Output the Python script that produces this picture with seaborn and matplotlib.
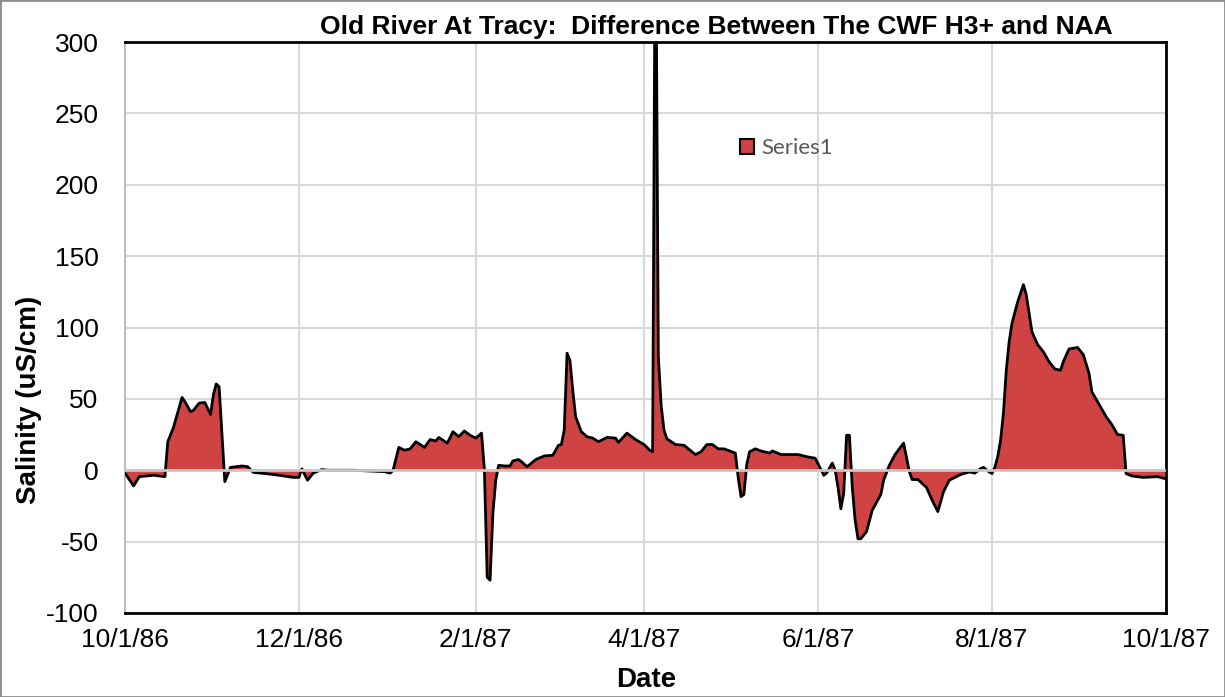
import numpy as np
import pandas as pd
import seaborn as sns
import matplotlib
matplotlib.use("Agg")
import matplotlib.pyplot as plt
from matplotlib.patches import Patch, Rectangle

# Days after 10/1/86 and the salinity difference (uS/cm)
day_offset = [0, 3, 5, 10, 14, 15, 17, 20, 21, 23, 24, 26, 28, 30, 31, 32, 33,
              35, 36, 37, 41, 43, 45, 50, 54, 59, 61, 62, 64, 66, 69, 71, 80,
              91, 93, 94, 96, 98, 100, 102, 105, 107, 109, 110, 113, 115, 117,
              119, 121, 123, 125, 126, 127, 128, 129, 130, 131, 133, 135, 136,
              138, 139, 141, 144, 147, 150, 152, 153, 154, 155, 156, 157, 158,
              160, 162, 164, 166, 169, 172, 173, 176, 179, 182, 184, 185, 186,
              187, 188, 189, 190, 193, 196, 200, 202, 204, 206, 208, 210, 212,
              214, 215, 216, 217, 218, 219, 221, 223, 226, 227, 230, 233, 236,
              239, 242, 243, 245, 246, 248, 249, 250, 251, 252, 253, 254, 255,
              256, 257, 258, 260, 262, 265, 266, 268, 270, 273, 275, 276, 278,
              281, 283, 285, 287, 289, 293, 296, 298, 300, 301, 303, 304, 305,
              306, 307, 308, 309, 310, 311, 313, 315, 316, 318, 320, 322, 324,
              326, 328, 329, 331, 334, 336, 338, 339, 342, 344, 346, 348, 350,
              351, 353, 357, 362, 365]
salinity_diff = [-2, -11, -4.5, -3.5, -4.5, 20, 30, 51, 48, 41, 42, 47, 47.5,
                 39, 53, 60.5, 58.5, -8, -3, 2, 3, 2.5, -1.5, -2.5, -3.5, -5,
                 -5, 1, -7, -2, 0.5, 0, 0, -1, -2, 0, 16, 14, 15, 20, 16, 21.5,
                 20.5, 23, 19, 27, 23.5, 27.5, 24.5, 22.5, 26, 1, -75, -77,
                 -30, -7, 3.5, 3, 3, 6.5, 7.5, 6, 2.5, 7.5, 10, 10.5, 17.5, 18,
                 28, 82, 77, 56, 37.5, 27, 23.5, 22.5, 20, 23, 22.5, 19.5, 26,
                 21.5, 18, 14, 13, 420, 80, 45, 28, 22, 18, 17.5, 11, 13, 18,
                 18, 15, 15, 13.5, 12, -5, -18.5, -17, 4, 13, 15, 13.5, 12,
                 13.5, 11, 11, 11, 9.5, 8.4, 4.5, -3.5, -2, 5, 0, -12, -27, -16,
                 24.5, 24.5, -12, -35, -48, -48, -43, -28, -17, -7, 3.5, 11, 19,
                 -1, -6.5, -6.5, -12, -21, -29, -15, -7, -3, -1.2, -2, 1.2, 2,
                 -1.2, -2.3, 2, 9.5, 21, 40, 70, 90, 103, 118, 130, 123, 97, 88,
                 83, 76, 71, 70, 76, 85, 86, 81, 68, 55, 44.5, 37.5, 32, 25,
                 24.5, -2.3, -4, -5, -4.5, -6]

tick_dates = ["1986-10-01", "1986-12-01", "1987-02-01", "1987-04-01",
              "1987-06-01", "1987-08-01", "1987-10-01"]
tick_labels = ["10/1/86", "12/1/86", "2/1/87", "4/1/87", "6/1/87", "8/1/87",
               "10/1/87"]
y_ticks = [-100, -50, 0, 50, 100, 150, 200, 250, 300]

df = pd.DataFrame({
    "date": pd.Timestamp("1986-10-01") + pd.to_timedelta(day_offset, unit="D"),
    "salinity": salinity_diff,
})

sns.set_style("white")
plt.rcParams["font.family"] = ["Liberation Sans", "DejaVu Sans"]
plt.rcParams["axes.unicode_minus"] = False
plt.rcParams["text.color"] = "black"
plt.rcParams["axes.labelcolor"] = "black"

fig = plt.figure(figsize=(12.25, 6.97), dpi=100)
ax = fig.add_axes([125 / 1225, 1 - 613 / 697, 1041 / 1225, 571 / 697])

fill_color = "#D04343"
ax.fill_between(df["date"], 0, df["salinity"], color=fill_color, lw=0, zorder=2)
sns.lineplot(data=df, x="date", y="salinity", color="black", lw=2, ax=ax,
             zorder=3)

# Category axis crosses at zero and is drawn over the series
ax.axhline(0, color="#c8c8c8", lw=2, zorder=4)

ticks = pd.to_datetime(tick_dates)
ax.set_xlim(ticks[0], ticks[-1])
ax.set_ylim(-100, 300)
ax.set_xticks(ticks)
ax.set_xticklabels(tick_labels)
ax.set_yticks(y_ticks)
ax.tick_params(axis="both", length=0, labelsize=19, colors="black")
ax.tick_params(axis="y", pad=19)
ax.tick_params(axis="x", pad=11)
ax.grid(True, color="#d9d9d9", lw=1.5, zorder=0)
ax.set_axisbelow(True)

for side in ["top", "right", "bottom"]:
    ax.spines[side].set_color("black")
    ax.spines[side].set_linewidth(2)
ax.spines["left"].set_color("#bfbfbf")
ax.spines["left"].set_linewidth(1.5)

ax.set_xlabel("Date", fontsize=20, fontweight="bold", va="center")
ax.set_ylabel("Salinity (uS/cm)", fontsize=20, fontweight="bold")
ax.xaxis.set_label_coords((646 - 125) / 1041, (613 - 680) / 571)
ax.yaxis.set_label_coords((42 - 125) / 1041, (613 - 400) / 571)

fig.text(716 / 1225, 1 - 27 / 697,
         "Old River At Tracy:  Difference Between The CWF H3+ and NAA",
         ha="center", va="center", fontsize=19, fontweight="bold")

handle = Patch(facecolor=fill_color, edgecolor="black", lw=1.5)
leg = ax.legend([handle], ["Series1"], loc="center left",
                bbox_to_anchor=(740 / 1225, 1 - 148 / 697),
                bbox_transform=fig.transFigure, frameon=False, borderpad=0,
                borderaxespad=0, handlelength=0.65, handleheight=0.65,
                handletextpad=0.3, prop={"family": "Lato", "size": 16})
for t in leg.get_texts():
    t.set_color("#595959")

fig.patches.append(Rectangle((0, 0), 1, 1, transform=fig.transFigure,
                             fill=False, edgecolor="#8c8c8c", lw=2))

plt.savefig("out.png", dpi=100)
plt.close()
